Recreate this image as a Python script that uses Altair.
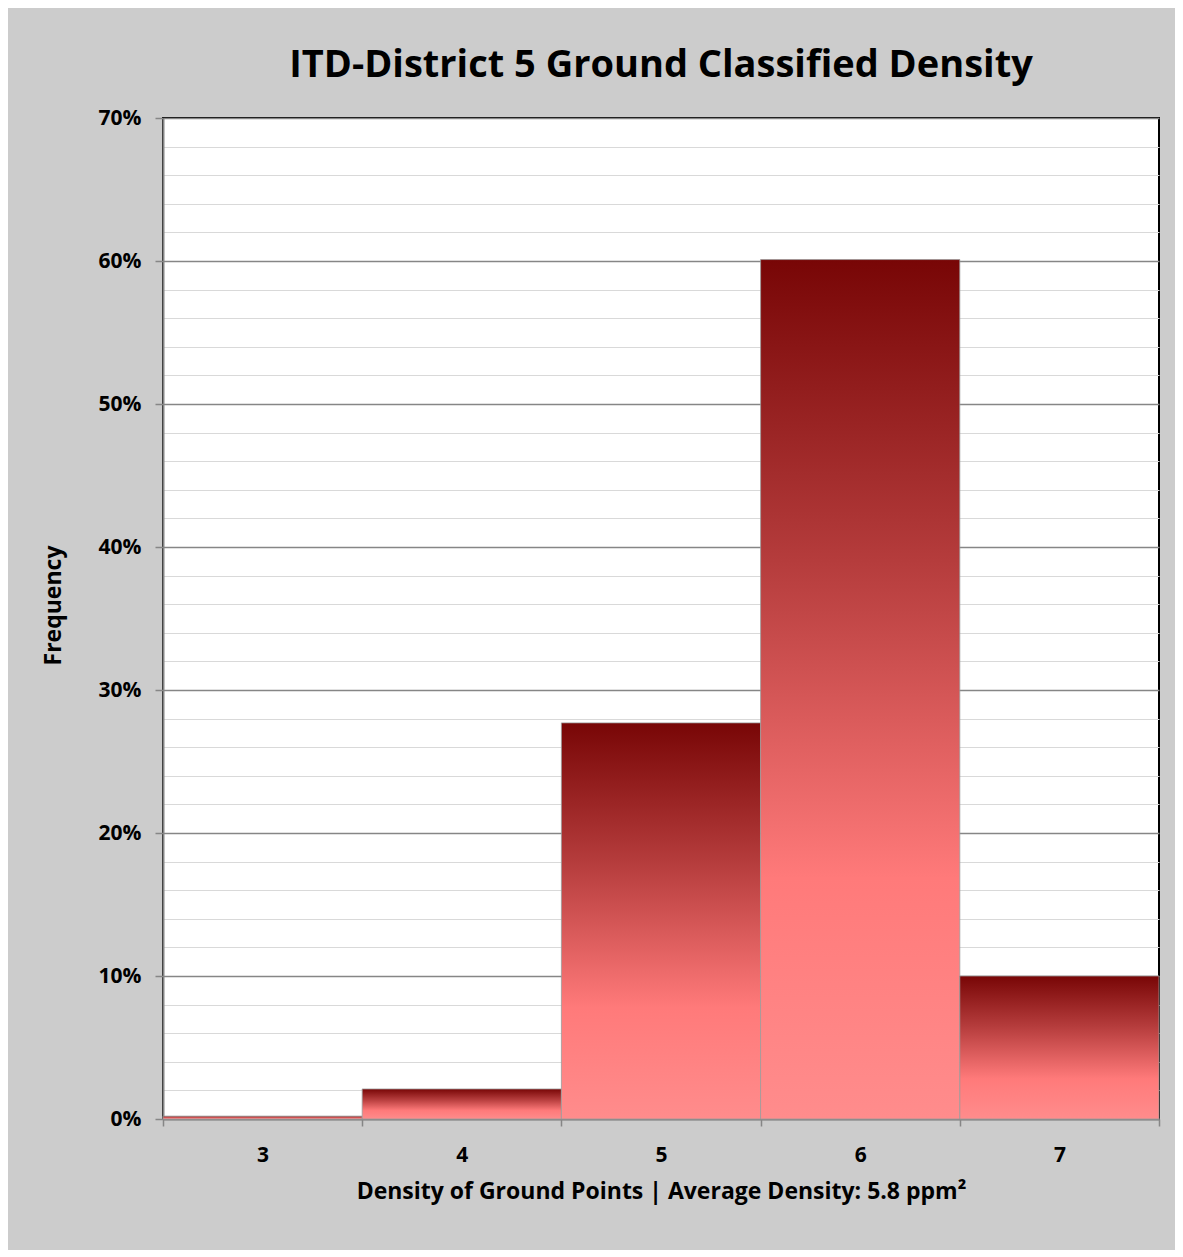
import altair as alt
import pandas as pd

categories = ["3", "4", "5", "6", "7"]
frequency = [0.002, 0.021, 0.277, 0.601, 0.100]

df = pd.DataFrame({"density": categories, "frequency": frequency})

FONT = "Open Sans"

grad = alt.Gradient(
    gradient="linear",
    x1=0, x2=0, y1=0, y2=1,
    stops=[
        alt.GradientStop(color="#780606", offset=0),
        alt.GradientStop(color="#b53c3c", offset=0.35),
        alt.GradientStop(color="#ff7a7a", offset=0.72),
        alt.GradientStop(color="#ff8c8c", offset=1),
    ],
)

major = "round(datum.value*100) % 10 == 0"

bars = alt.Chart(df).mark_bar(
    color=grad, stroke="#9a9a9a", strokeWidth=0.8
).encode(
    x=alt.X(
        "density:N",
        sort=categories,
        scale=alt.Scale(paddingInner=0, paddingOuter=0),
        axis=alt.Axis(
            title="Density of Ground Points | Average Density: 5.8 ppm²",
            labelAngle=0,
            tickBand="extent",
            labelFont=FONT, labelFontSize=21, labelFontWeight="bold", labelColor="#000",
            labelPadding=18,
            titleFont=FONT, titleFontSize=23, titleFontWeight="bold", titleColor="#000",
            titlePadding=15,
            domainColor="#868686", domainWidth=2,
            tickColor="#868686", tickSize=7, tickWidth=1.5,
            grid=False,
        ),
    ),
    y=alt.Y(
        "frequency:Q",
        scale=alt.Scale(domain=[0, 0.7], nice=False),
        axis=alt.Axis(
            title="Frequency",
            values=[i / 100 for i in range(0, 71, 2)],
            labelExpr=f"{major} ? format(datum.value, '.0%') : ''",
            labelFont=FONT, labelFontSize=21, labelFontWeight="bold", labelColor="#000",
            labelPadding=14,
            titleFont=FONT, titleFontSize=23, titleFontWeight="bold", titleColor="#000",
            titlePadding=33,
            titleY=487,
            domainColor="#868686", domainWidth=2,
            tickColor="#868686", tickSize=8, tickWidth=1.5,
            tickOpacity={"condition": {"test": major, "value": 1}, "value": 0},
            grid=True,
            gridColor={"condition": {"test": major, "value": "#868686"}, "value": "#d9d9d9"},
            gridWidth={"condition": {"test": major, "value": 1.5}, "value": 1.2},
        ),
    ),
)

chart = bars.properties(
    width=996,
    height=1001,
    autosize=alt.AutoSizeParams(type="none"),
    padding={"left": 155, "top": 110, "right": 16, "bottom": 131},
    background="#cccccc",
    title=alt.Title(
        "ITD-District 5 Ground Classified Density",
        font=FONT, fontSize=38, fontWeight="bold", color="#000",
        anchor="middle", offset=22,
    ),
).configure_view(
    fill="white", stroke="#000", strokeWidth=2
)

chart.save("out.html", embed_options={"renderer": "svg", "actions": False})
